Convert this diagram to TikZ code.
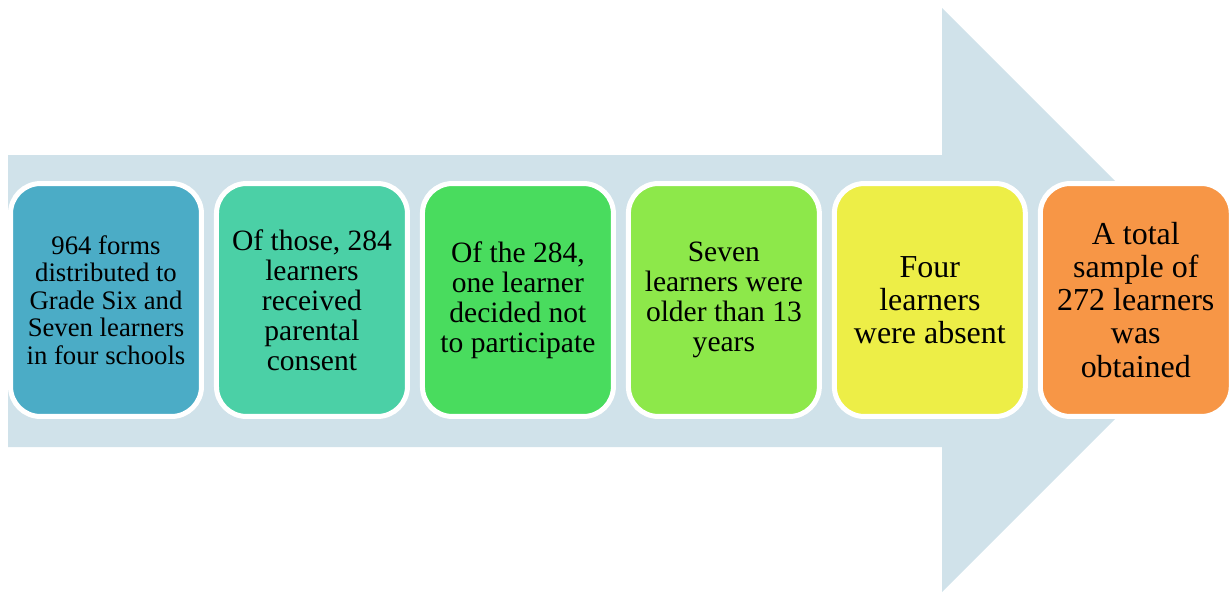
\documentclass[tikz,border=0pt]{standalone}
\usepackage{fontspec}
\setmainfont{Liberation Serif}
\newfontfamily\stagefont{Liberation Serif}
\usepackage{xcolor}
\usetikzlibrary{positioning}
\definecolor{ArrowMist}{HTML}{D0E2EA}
\definecolor{StageBlue}{HTML}{4BACC6}
\definecolor{StageMint}{HTML}{4BD0A6}
\definecolor{StageGreen}{HTML}{49DC5E}
\definecolor{StageLime}{HTML}{8DE84A}
\definecolor{StageYellow}{HTML}{EDEE47}
\definecolor{StageOrange}{HTML}{F79646}

\begin{document}
\begin{tikzpicture}[
  x=0.02cm, y=-0.02cm,
  node distance=0.2cm,
  box/.style={draw=white, line width=0.1cm, rounded corners=0.6cm,
              minimum width=3.82cm, minimum height=4.66cm, inner sep=2pt,
              align=center, font=\stagefont\fontsize{16.8}{17.1}\selectfont},
  bigbox/.style={box, font=\stagefont\fontsize{18.2}{18.8}\selectfont}
]
\useasboundingbox (0,0) rectangle (1231,592);
\clip (0,0) rectangle (1231,592);
% wide background arrow
\fill[ArrowMist] (8,155) -- (942,155) -- (942,8) -- (1234,300)
  -- (942,592) -- (942,447) -- (8,447) -- cycle;
% the six stages
\node[box, fill=StageBlue, font=\stagefont\fontsize{15.2}{15.6}\selectfont] (forms) at (106,300)
  {964 forms\\distributed to\\Grade Six and\\Seven learners\\in four schools};
\node[box, fill=StageMint, right=of forms] (consent) {Of those, 284\\learners\\received\\parental\\consent};
\node[box, fill=StageGreen, right=of consent] (declined) {Of the 284,\\one learner\\decided not\\to participate};
\node[box, fill=StageLime, right=of declined] (older) {Seven\\learners were\\older than 13\\years};
\node[bigbox, fill=StageYellow, right=of older] (absent) {Four\\learners\\were absent};
\node[bigbox, fill=StageOrange, right=of absent] (sample) {A total\\sample of\\272 learners\\was\\obtained};
\end{tikzpicture}
\end{document}
